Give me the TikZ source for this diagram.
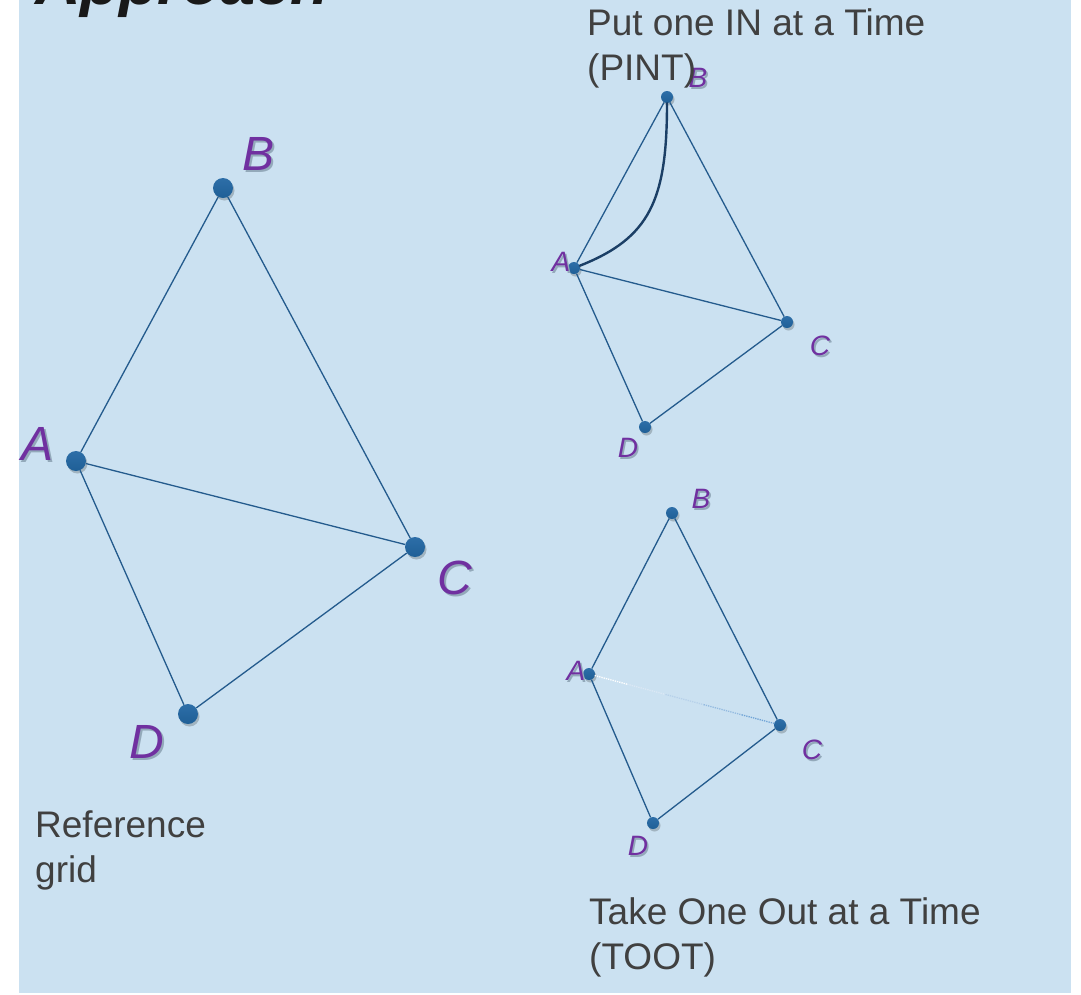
\documentclass[tikz,border=0pt]{standalone}
\usepackage{fontspec}
\setmainfont{Liberation Sans}
\usetikzlibrary{calc}
\definecolor{bgblue}{HTML}{CBE1F1}
\definecolor{txtgray}{HTML}{404040}
\definecolor{lblpurple}{HTML}{7030A0}
\definecolor{dotblue}{HTML}{1F5F96}
\definecolor{dottop}{HTML}{2D6EA8}
\definecolor{edgeblue}{HTML}{245B8D}
\definecolor{curvenavy}{HTML}{1B3F66}
\definecolor{fadeblue}{HTML}{6FA3D6}
\definecolor{shadowgray}{HTML}{93A9BA}
% purple letter with a soft shadow behind it
\newcommand\shadowlbl[1]{\makebox[0pt][l]{\hspace{1.6pt}\raisebox{-1.6pt}{\textcolor{shadowgray}{#1}}}#1}
\begin{document}
\begin{tikzpicture}[x=1pt,y=-1pt,
  dotshadow/.style={
    preaction={fill=black, opacity=0.2, transform canvas={shift={(1.5pt,-2.5pt)}}}},
  bigdot/.style={circle, inner sep=0pt, minimum size=20pt, top color=dottop, bottom color=dotblue, draw=none, dotshadow},
  smalldot/.style={circle, inner sep=0pt, minimum size=12pt, top color=dottop, bottom color=dotblue, draw=none, dotshadow},
  biglbl/.style={inner sep=0pt, text=lblpurple, font=\fontsize{48}{52}\selectfont\itshape},
  smalllbl/.style={inner sep=0pt, text=lblpurple, font=\fontsize{28}{32}\selectfont\itshape},
  edge/.style={draw=edgeblue, line width=1.3pt},
  curveedge/.style={draw=curvenavy, line width=2.4pt, line cap=round},
  fadeline/.style={line width=1.3pt, densely dotted},
  caption/.style={inner sep=0pt, anchor=base west, align=left, text=txtgray, font=\fontsize{37}{44.5}\selectfont},
]
\useasboundingbox (0,0) rectangle (1081,994);
\fill[bgblue] (19,0) rectangle (1071,993);

% heading, mostly cut off by the top edge
\node[inner sep=0pt, anchor=base west, font=\fontsize{63}{70}\selectfont\bfseries\itshape, text=black!90] (title) at (35,4) {Approach};

% reference grid
\node[bigdot] (rA) at (76,461) {};
\node[bigdot] (rB) at (223,188) {};
\node[bigdot] (rC) at (415,547) {};
\node[bigdot] (rD) at (188,714) {};
\node[biglbl] (rlA) at (38,445) {\shadowlbl{A}};
\node[biglbl] (rlB) at (259,155) {\shadowlbl{B}};
\node[biglbl] (rlC) at (455,579) {\shadowlbl{C}};
\node[biglbl] (rlD) at (147,743) {\shadowlbl{D}};
\draw[edge] (rA) -- (rB);
\draw[edge] (rB) -- (rC);
\draw[edge] (rA) -- (rC);
\draw[edge] (rA) -- (rD);
\draw[edge] (rD) -- (rC);
% the base anchor of a two-line caption sits on its last line
\node[caption] (rcap) at (35,882) {Reference\\grid};

% put one in at a time
\node[smalldot] (pA) at (574,268) {};
\node[smalldot] (pB) at (667,97) {};
\node[smalldot] (pC) at (787,322) {};
\node[smalldot] (pD) at (645,427) {};
\node[smalllbl] (plA) at (561,263) {\shadowlbl{A}};
\node[smalllbl] (plB) at (698,79) {\shadowlbl{B}};
\node[smalllbl] (plC) at (820,347) {\shadowlbl{C}};
\node[smalllbl] (plD) at (628,449) {\shadowlbl{D}};
\draw[edge] (pA) -- (pB);
\draw[edge] (pB) -- (pC);
\draw[edge] (pA) -- (pC);
\draw[edge] (pA) -- (pD);
\draw[edge] (pD) -- (pC);
\draw[curveedge] (pA) .. controls (650,238) and (667,200) .. (pB);
\node[caption] (pcap) at (587,80) {Put one IN at a Time\\(PINT)};

% take one out at a time
\node[smalldot] (tA) at (589,674) {};
\node[smalldot] (tB) at (672,513) {};
\node[smalldot] (tC) at (780,725) {};
\node[smalldot] (tD) at (653,823) {};
\node[smalllbl] (tlA) at (576,672) {\shadowlbl{A}};
\node[smalllbl] (tlB) at (701,500) {\shadowlbl{B}};
\node[smalllbl] (tlC) at (812,751) {\shadowlbl{C}};
\node[smalllbl] (tlD) at (638,847) {\shadowlbl{D}};
\draw[edge] (tA) -- (tB);
\draw[edge] (tB) -- (tC);
\draw[edge] (tA) -- (tD);
\draw[edge] (tD) -- (tC);
% the removed link, fading from white into blue
\foreach \s/\e/\c in {0.03/0.2/0, 0.2/0.4/25, 0.4/0.6/50, 0.6/0.8/75, 0.8/0.97/100}
  \draw[fadeline, color=fadeblue!\c!white] ($(tA)!\s!(tC)$) -- ($(tA)!\e!(tC)$);
\node[caption] (tcap) at (589,969) {Take One Out at a Time\\(TOOT)};
\end{tikzpicture}
\end{document}
